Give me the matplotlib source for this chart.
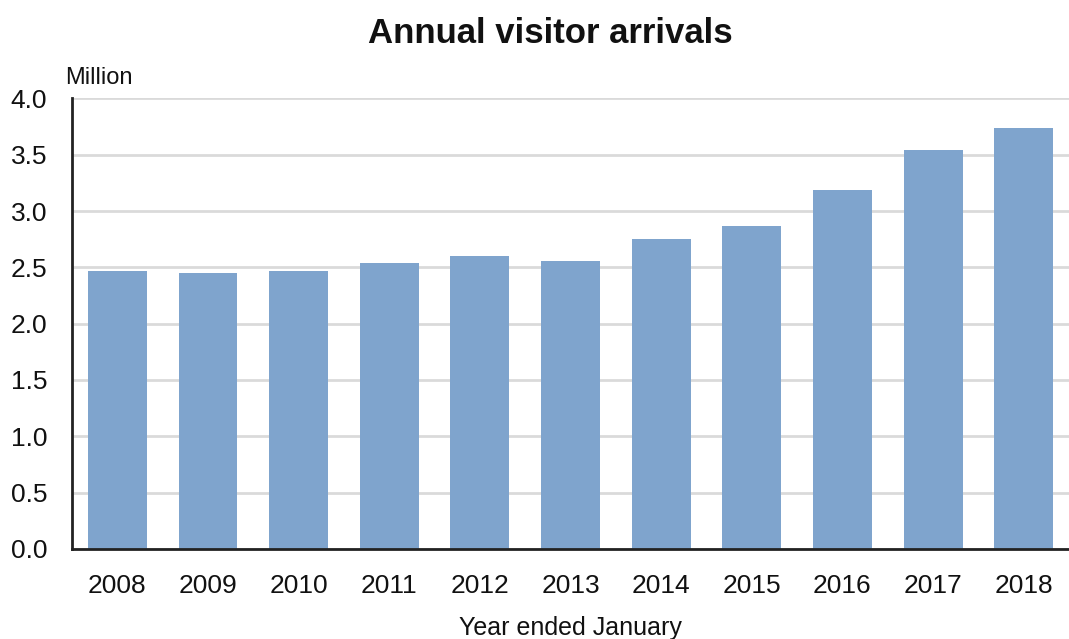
import matplotlib
matplotlib.use("Agg")
import matplotlib.pyplot as plt
import numpy as np

years = ["2008", "2009", "2010", "2011", "2012", "2013",
         "2014", "2015", "2016", "2017", "2018"]
arrivals = [2.47, 2.45, 2.47, 2.54, 2.60, 2.56, 2.75, 2.87, 3.19, 3.54, 3.74]
yticks = [0.0, 0.5, 1.0, 1.5, 2.0, 2.5, 3.0, 3.5, 4.0]

plt.rcParams["font.family"] = ["Liberation Sans", "DejaVu Sans"]

fig = plt.figure(figsize=(10.69, 6.39), dpi=100)
ax = fig.add_axes([0.0674, 0.141, 0.9326, 0.705])

x = np.arange(len(years))
ax.bar(x, arrivals, width=0.65, color="#7fa4cd", zorder=2)

ax.set_xlim(-0.5, 10.5)
ax.set_ylim(0, 4.0)
ax.set_yticks(yticks)
ax.set_yticklabels([f"{v:.1f}" for v in yticks])
ax.set_xticks(x)
ax.set_xticklabels(years)
ax.grid(axis="y", color="#dadada", lw=2, zorder=0)
ax.set_axisbelow(True)

for s in ("top", "right"):
    ax.spines[s].set_visible(False)
for s in ("left", "bottom"):
    ax.spines[s].set_linewidth(2)
    ax.spines[s].set_color("#222222")
ax.spines["bottom"].set_zorder(3)

ax.tick_params(axis="both", length=0, labelsize=19, colors="#111111")
ax.tick_params(axis="x", pad=18)
ax.tick_params(axis="y", pad=18)

ax.set_xlabel("Year ended January", fontsize=18, labelpad=13, color="#111111")
fig.text(0.061, 0.86, "Million", fontsize=17, color="#111111", ha="left", va="bottom")
fig.text(0.515, 0.947, "Annual visitor arrivals", fontsize=25, fontweight="bold",
         ha="center", va="center", color="#111111")

fig.savefig("out.png", dpi=100)
